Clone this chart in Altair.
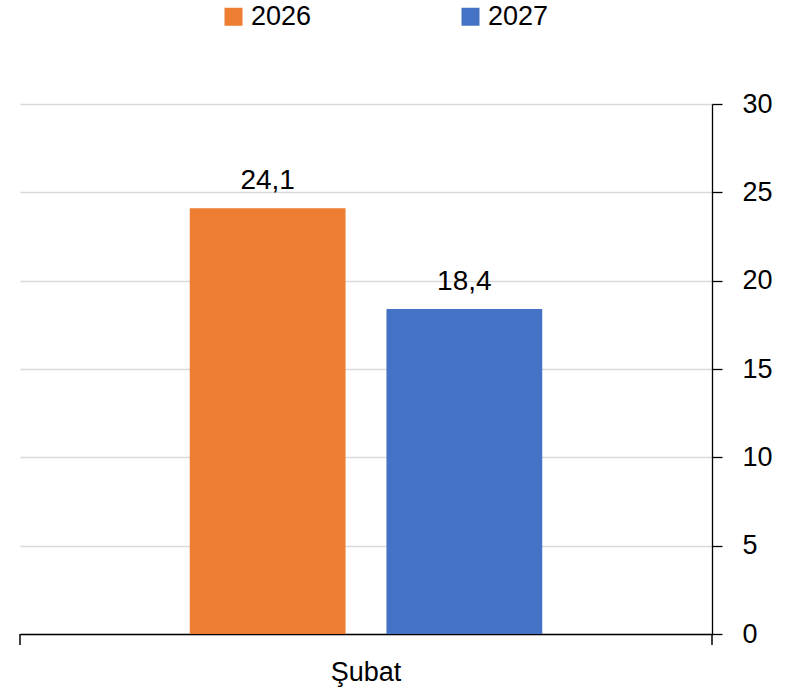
import altair as alt
import pandas as pd

categories = ["Şubat", "Şubat"]
years = ["2026", "2027"]
values = [24.1, 18.4]
colors = ["#ED7D31", "#4472C4"]
y_ticks = [0, 5, 10, 15, 20, 25, 30]

df = pd.DataFrame({"month": categories, "year": years, "value": values})

W, H = 692, 530
FONT = "Liberation Sans"
FS = 27

base = alt.Chart(df).encode(
    x=alt.X(
        "month:N",
        title=None,
        scale=alt.Scale(paddingInner=0, paddingOuter=0),
        axis=alt.Axis(labelAngle=0, ticks=False, domainColor="black", domainWidth=1.5,
                      labelPadding=25, labelFontSize=FS, labelColor="black", grid=False),
    ),
    xOffset=alt.XOffset("year:N", scale=alt.Scale(domain=years, paddingInner=0.208, paddingOuter=0.863)),
    y=alt.Y(
        "value:Q",
        title=None,
        scale=alt.Scale(domain=[0, 30]),
        axis=alt.Axis(orient="right", values=y_ticks, tickColor="black", tickSize=10,
                      tickWidth=1.3, domainColor="black", domainWidth=1.3, labelPadding=20,
                      labelFontSize=FS, labelColor="black",
                      grid=True, gridColor="#d9d9d9", gridWidth=1.3),
    ),
)

bars = base.mark_bar().encode(
    color=alt.Color(
        "year:N",
        scale=alt.Scale(domain=years, range=colors),
        legend=alt.Legend(orient="none", legendX=200, legendY=-101, direction="horizontal",
                          title=None, symbolType="square", symbolSize=324, symbolStrokeWidth=0,
                          labelFontSize=FS, labelColor="black", columnPadding=145, padding=0,
                          labelOffset=4),
    )
)

labels = base.transform_calculate(
    lab="replace(format(datum.value, '.1f'), '.', ',')"
).mark_text(baseline="bottom", dy=-13, fontSize=28, color="black").encode(text="lab:N")

tick_df = pd.DataFrame({"t": [0]})
tick_left = alt.Chart(tick_df).mark_rule(color="black", strokeWidth=1.5).encode(
    x=alt.value(0), y=alt.value(H), y2=alt.value(H + 11))
tick_right = alt.Chart(tick_df).mark_rule(color="black", strokeWidth=1.5).encode(
    x=alt.value(W), y=alt.value(H), y2=alt.value(H + 11))

chart = alt.layer(bars, labels, tick_left, tick_right).properties(
    width=W, height=H,
    autosize=alt.AutoSizeParams(type="none"),
    padding={"left": 20, "top": 104, "right": 88, "bottom": 65},
).configure(font=FONT).configure_view(stroke=None)

chart.save("out.html", embed_options={"renderer": "svg", "actions": False})
